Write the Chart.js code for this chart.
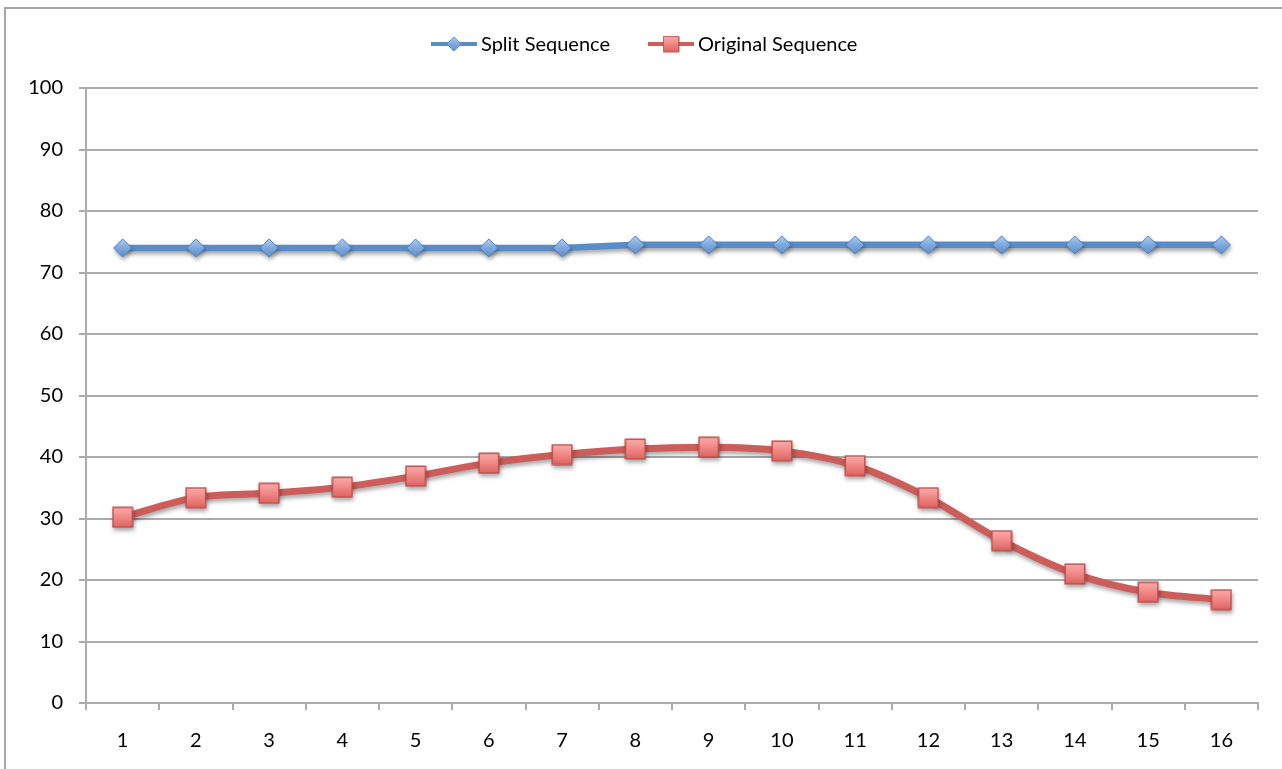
<!DOCTYPE html>
<html>
<head>
<meta charset="utf-8">
<style>
  html, body { margin: 0; padding: 0; background: #ffffff; }
  #wrap { position: relative; width: 1282px; height: 769px; }
</style>
<script src="https://cdn.jsdelivr.net/npm/chart.js@4.4.1/dist/chart.umd.min.js"></script>
</head>
<body>
<div id="wrap"><canvas id="chart" width="1282" height="769"></canvas></div>
<script>
// Run numbers along the x axis
const categories = ['1','2','3','4','5','6','7','8','9','10','11','12','13','14','15','16'];
// Series values
const splitSequence = [74, 74, 74, 74, 74, 74, 74, 74.5, 74.5, 74.5, 74.5, 74.5, 74.5, 74.5, 74.5, 74.5];
const originalSequence = [30.2, 33.4, 34.1, 35.1, 36.9, 39.0, 40.4, 41.3, 41.6, 41.0, 38.6, 33.4, 26.4, 21.0, 18.0, 16.8];
// Value axis ticks
const yTicks = [0, 10, 20, 30, 40, 50, 60, 70, 80, 90, 100];
const seriesNames = ['Split Sequence', 'Original Sequence'];

const FONT = 'Lato, "Open Sans", "Liberation Sans", sans-serif';
const BLUE_LINE = '#5A8DC8';
const RED_LINE = '#CD5D5A';
const GRID = '#ABABAB';

// Glossy marker sprites
function diamondSprite(size) {
  const c = document.createElement('canvas');
  c.width = size; c.height = size;
  const g = c.getContext('2d');
  const h = size / 2;
  const grad = g.createLinearGradient(0, 0, 0, size);
  grad.addColorStop(0, '#B5D1F3');
  grad.addColorStop(0.5, '#7FA9DE');
  grad.addColorStop(1, '#5B8CCB');
  g.beginPath();
  g.moveTo(h, 1); g.lineTo(size - 1, h); g.lineTo(h, size - 1); g.lineTo(1, h); g.closePath();
  g.fillStyle = grad; g.fill();
  g.lineWidth = 1; g.strokeStyle = '#5082BE'; g.stroke();
  return c;
}
function squareSprite(size) {
  const c = document.createElement('canvas');
  c.width = size; c.height = size;
  const g = c.getContext('2d');
  const grad = g.createLinearGradient(0, 0, 0, size);
  grad.addColorStop(0, '#FBB0AE');
  grad.addColorStop(0.5, '#F08886');
  grad.addColorStop(1, '#DC5F5C');
  g.fillStyle = grad;
  g.fillRect(1, 1, size - 2, size - 2);
  g.lineWidth = 1.5; g.strokeStyle = '#C2504D';
  g.strokeRect(1.25, 1.25, size - 2.5, size - 2.5);
  return c;
}
const diamond = diamondSprite(20);
const square = squareSprite(22);

// Soft drop shadow under the series
const shadowPlugin = {
  id: 'seriesShadow',
  beforeDatasetsDraw(chart) {
    const ctx = chart.ctx;
    ctx.save();
    ctx.shadowColor = 'rgba(0,0,0,0.35)';
    ctx.shadowBlur = 4;
    ctx.shadowOffsetX = 1;
    ctx.shadowOffsetY = 3;
  },
  afterDatasetsDraw(chart) { chart.ctx.restore(); }
};

// Frame lines and the line+marker legend at the top
const framePlugin = {
  id: 'frameAndLegend',
  afterDraw(chart) {
    const ctx = chart.ctx;
    ctx.save();
    ctx.strokeStyle = '#A6A6A6';
    ctx.lineWidth = 2;
    ctx.beginPath();
    ctx.moveTo(4, 8); ctx.lineTo(1282, 8);
    ctx.moveTo(5, 8); ctx.lineTo(5, 769);
    ctx.stroke();

    const y = 44;
    const items = [
      { x: 431, color: BLUE_LINE, img: diamond, size: 16, text: seriesNames[0] },
      { x: 648, color: RED_LINE, img: square, size: 17, text: seriesNames[1] }
    ];
    ctx.font = '20px ' + FONT;
    ctx.textBaseline = 'middle';
    ctx.textAlign = 'left';
    items.forEach(it => {
      ctx.strokeStyle = it.color;
      ctx.lineWidth = 4;
      ctx.beginPath();
      ctx.moveTo(it.x, y); ctx.lineTo(it.x + 46, y);
      ctx.stroke();
      ctx.drawImage(it.img, it.x + 23 - it.size / 2, y - it.size / 2, it.size, it.size);
      ctx.fillStyle = '#000000';
      ctx.fillText(it.text, it.x + 50, y + 1);
    });
    ctx.restore();
  }
};

new Chart(document.getElementById('chart'), {
  type: 'line',
  data: {
    labels: categories,
    datasets: [
      {
        label: seriesNames[0],
        data: splitSequence,
        borderColor: BLUE_LINE,
        borderWidth: 6.5,
        pointStyle: diamond,
        pointRadius: 10,
        tension: 0
      },
      {
        label: seriesNames[1],
        data: originalSequence,
        borderColor: RED_LINE,
        borderWidth: 7,
        pointStyle: square,
        pointRadius: 11,
        cubicInterpolationMode: 'monotone',
        tension: 0.3
      }
    ]
  },
  options: {
    responsive: false,
    animation: false,
    devicePixelRatio: 1,
    layout: { padding: { top: 88, right: 24, left: 0, bottom: 0 } },
    plugins: {
      legend: { display: false },
      tooltip: { enabled: false }
    },
    scales: {
      x: {
        offset: true,
        grid: {
          offset: true,
          drawOnChartArea: false,
          drawTicks: true,
          tickLength: 7,
          color: GRID,
          lineWidth: 2
        },
        border: { display: true, color: GRID, width: 2 },
        ticks: {
          color: '#000000',
          font: { family: FONT, size: 20 },
          padding: 19,
          maxRotation: 0
        },
        afterFit(scale) { scale.height = 66; }
      },
      y: {
        min: 0,
        max: 100,
        afterBuildTicks(scale) { scale.ticks = yTicks.map(v => ({ value: v })); },
        grid: {
          color: GRID,
          lineWidth: 2,
          drawTicks: true,
          tickLength: 7
        },
        border: { display: true, color: GRID, width: 2 },
        ticks: {
          color: '#000000',
          font: { family: FONT, size: 20 },
          padding: 16
        },
        afterFit(scale) { scale.width = 86; }
      }
    }
  },
  plugins: [shadowPlugin, framePlugin]
});
</script>
</body>
</html>
